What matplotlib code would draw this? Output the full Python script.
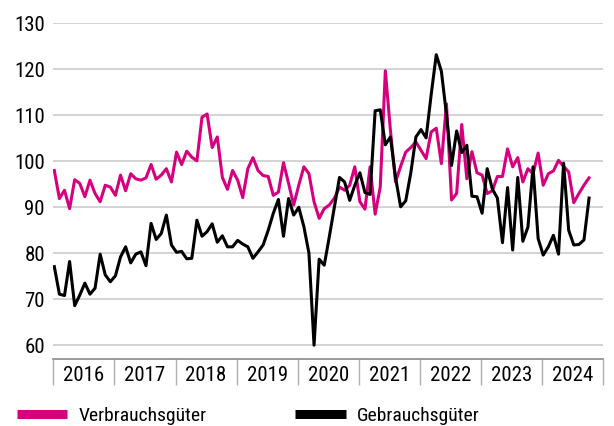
import numpy as np
import matplotlib
matplotlib.use("Agg")
import matplotlib.pyplot as plt
from matplotlib import font_manager

vorhanden = {f.name for f in font_manager.fontManager.ttflist}
schrift = [f for f in ['Roboto Condensed', 'Archivo Narrow', 'PT Sans Narrow',
                       'Liberation Sans Narrow', 'Roboto'] if f in vorhanden]
plt.rcParams['font.family'] = schrift + ['DejaVu Sans']

# Monatswerte Jan 2016 bis Okt 2024
verbrauch = [
    98.0, 91.9, 93.7, 89.7, 96.0, 95.2, 92.3, 95.9, 93.0, 91.2, 94.8, 94.4,
    92.6, 97.0, 93.6, 97.3, 96.2, 95.9, 96.4, 99.3, 96.1, 97.0, 98.4, 95.5,
    102.0, 99.3, 102.2, 100.9, 100.1, 109.6, 110.3, 103.0, 105.3, 96.5, 93.9, 98.0,
    95.9, 92.1, 98.4, 100.8, 98.0, 96.9, 96.7, 92.6, 93.3, 99.7, 95.2, 90.5,
    94.8, 98.8, 97.3, 91.2, 87.6, 89.7, 90.5, 92.0, 94.4, 93.7, 94.8, 98.8,
    91.2, 89.6, 98.8, 88.5, 94.4, 119.7, 106.7, 95.5, 98.9, 102.0, 103.0, 104.2,
    102.4, 100.6, 106.4, 107.2, 99.5, 112.5, 91.6, 93.0, 108.0, 96.2, 102.1, 97.5,
    97.0, 93.0, 93.6, 96.7, 96.7, 102.7, 98.8, 100.8, 95.5, 98.4, 97.3, 101.8,
    94.8, 97.3, 97.9, 100.2, 98.9, 97.7, 91.0, 93.0, 94.8, 96.4,
]
gebrauch = [
    77.1, 71.1, 70.8, 78.2, 68.6, 70.9, 73.5, 71.1, 72.4, 79.8, 75.3, 73.8,
    75.1, 79.2, 81.4, 77.9, 79.8, 80.3, 77.3, 86.5, 83.0, 84.3, 88.3, 81.8,
    80.2, 80.4, 78.8, 78.9, 87.2, 83.7, 84.7, 86.4, 82.4, 83.8, 81.4, 81.4,
    82.8, 82.0, 81.4, 78.9, 80.3, 81.8, 85.0, 88.7, 91.7, 83.7, 91.9, 88.3,
    90.0, 85.8, 80.0, 60.0, 78.7, 77.4, 83.6, 90.1, 96.5, 95.5, 91.5, 94.8,
    97.5, 93.2, 92.8, 111.0, 111.2, 103.6, 105.3, 96.5, 90.1, 91.4, 97.5, 105.3,
    106.9, 105.1, 114.5, 123.2, 119.6, 110.2, 99.1, 106.6, 101.9, 103.5, 92.4, 92.3,
    88.7, 98.4, 94.0, 92.0, 82.3, 94.3, 80.7, 96.5, 82.6, 85.7, 98.8, 83.2,
    79.6, 81.4, 83.9, 79.8, 99.6, 85.0, 81.8, 81.9, 82.9, 92.0,
]
jahre = ['2016', '2017', '2018', '2019', '2020', '2021', '2022', '2023', '2024']

pink = '#d6007f'
x = np.arange(len(verbrauch))

fig = plt.figure(figsize=(6.14, 4.26), dpi=100)
ax = fig.add_axes([0.0868, 0.1573, 0.8958, 0.7894])

l1, = ax.plot(x, verbrauch, color=pink, lw=2.2, label='Verbrauchsgüter', zorder=3)
l2, = ax.plot(x, gebrauch, color='black', lw=2.2, label='Gebrauchsgüter', zorder=4)

ax.set_ylim(57, 130.15)
ax.set_yticks(range(60, 131, 10))
ax.set_xlim(-0.2, 107.8)

# Jahresgrenzen als lange Ticks, Jahreszahlen mittig dazwischen
grenzen = np.arange(len(jahre) + 1) * 12 - 0.2
ax.set_xticks(grenzen)
ax.set_xticklabels([])
ax.set_xticks(grenzen[:-1] + 6, minor=True)
ax.set_xticklabels(jahre, minor=True)
ax.tick_params(axis='x', which='major', length=19, width=1, color='#b0b0b0', direction='out')
ax.tick_params(axis='x', which='minor', length=0, pad=5, labelsize=15)
ax.tick_params(axis='y', length=0, pad=6, labelsize=15)

ax.yaxis.grid(True, color='#d0d0d0', lw=1.3)
ax.set_axisbelow(True)
for s in ['top', 'right', 'left']:
    ax.spines[s].set_visible(False)
ax.spines['bottom'].set_color('#8a8a8a')
ax.spines['bottom'].set_linewidth(1.2)

# zwei einzelne Legenden unten, jeweils eigene Position
for linie, links in [(l1, 16.5), (l2, 295)]:
    leg = fig.legend(handles=[linie], loc='center left',
                     bbox_to_anchor=(links / 614, 1 - 416 / 426),
                     frameon=False, fontsize=14, handlelength=2.6, handletextpad=0.6,
                     borderpad=0, borderaxespad=0)
    for h in leg.legend_handles:
        h.set_linewidth(6.5)
        h.set_solid_capstyle('butt')

fig.savefig('out.png', dpi=100)
